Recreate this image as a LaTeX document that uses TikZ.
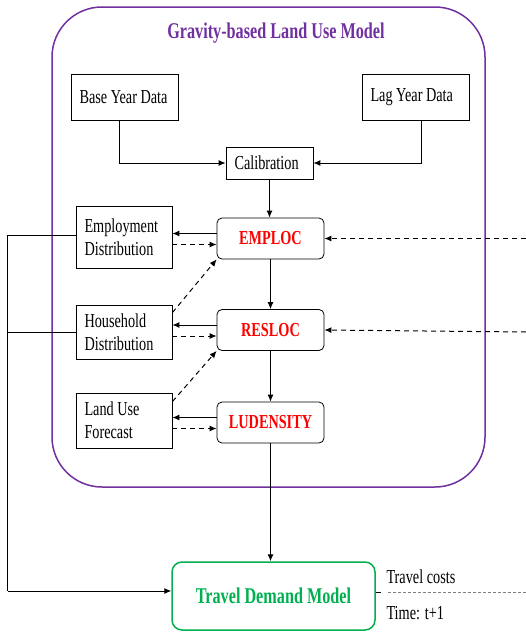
\documentclass[tikz,border=0pt]{standalone}
\usepackage{fontspec}
\setmainfont{Liberation Serif}[FakeStretch=0.72]
\usetikzlibrary{arrows.meta,positioning}
\definecolor{lumpurple}{HTML}{7030A0}
\definecolor{tdmgreen}{HTML}{00B050}

\begin{document}
\begin{tikzpicture}[x=1pt, y=-1pt, lab/.style={font=\fontsize{19.8}{22.7}\selectfont}, blab/.style={font=\bfseries\fontsize{19.8}{22.7}\selectfont}, ttl/.style={font=\bfseries\fontsize{22.5}{26}\selectfont}, dat/.style={draw, line width=0.8pt, inner xsep=8.5pt, align=flush left, lab}, sub/.style={draw, rounded corners=5pt, line width=0.8pt, minimum width=107pt, minimum height=41pt, text=red, blab}, outb/.style={draw=lumpurple, line width=1.5pt, rounded corners=50pt, minimum width=433pt, minimum height=480pt}, tdmb/.style={draw=tdmgreen, line width=1.5pt, rounded corners=10pt, minimum width=203pt, minimum height=68pt, text=tdmgreen, ttl}, arr/.style={-{Latex[length=7pt,width=6pt]}, line width=1pt}, das/.style={arr, dash pattern=on 5pt off 4pt}, fb/.style={line width=0.8pt}]

\useasboundingbox (0,0) rectangle (526,632);
\node[outb] (lum) at (268.5,247) {};
\node[ttl, text=lumpurple] (title) at (276,33) {Gravity-based Land Use Model};
\node[dat, text width=90pt, minimum height=46pt] (base) at (124.5,97) {Base Year Data};
\node[dat, text width=90pt, minimum height=46pt] (lag) at (415.5,97) {Lag Year Data};
\node[dat, text width=70pt, minimum height=32pt] (calib) at (269.5,163) {Calibration};
\node[sub] (emploc) at (270.5,238.5) {EMPLOC};
\node[sub] (resloc) at (270.5,330) {RESLOC};
\node[sub] (luden) at (270.5,422.5) {LUDENSITY};
\node[dat, text width=79pt, minimum height=62pt] (emp) at (124,237) {Employment\\Distribution};
\node[dat, text width=79pt, minimum height=54pt] (hh) at (124,332) {Household\\Distribution};
\node[dat, text width=79pt, minimum height=55pt] (luf) at (124,420.5) {Land Use\\Forecast};
\node[tdmb] (tdm) at (273.5,596) {Travel Demand Model};
\node[lab, anchor=west] (tcost) at (383,577) {Travel costs};
\node[lab, anchor=west] (ttime) at (383,613) {Time: t+1};
\coordinate (rin1) at (526,238.5);
\coordinate (rin2) at (526,332);
\coordinate (tout) at (526,592);

% calibration chain
\draw[arr] ([xshift=-5.5pt]base.south) |- (calib.west);
\draw[arr] ([xshift=5.5pt]lag.south) |- (calib.east);
\draw[arr] (calib.south) -- (calib.south |- emploc.north);
\draw[arr] (emploc.south) -- (resloc.north);
\draw[arr] (resloc.south) -- (luden.north);
\draw[arr] (luden.south) -- (luden.south |- tdm.north);

% outputs and inputs of the submodels
\draw[arr] ([yshift=5pt]emploc.west) -- ([yshift=5pt]emploc.west -| emp.east);
\draw[das] ([yshift=-6pt]emploc.west -| emp.east) -- ([yshift=-6pt]emploc.west);
\draw[arr] ([yshift=5pt]resloc.west) -- ([yshift=5pt]resloc.west -| hh.east);
\draw[das] ([yshift=-6pt]resloc.west -| hh.east) -- ([yshift=-6pt]resloc.west);
\draw[arr] ([yshift=5pt]luden.west) -- ([yshift=5pt]luden.west -| luf.east);
\draw[das] ([yshift=-6pt]luden.west -| luf.east) -- ([yshift=-6pt]luden.west);
\draw[das] ([yshift=-8pt]hh.north east) -- (emploc.south west);
\draw[das] ([yshift=-9pt]luf.north east) -- (resloc.south west);
\draw[das] (rin1) -- (emploc.east);
\draw[das] (rin2) -- (resloc.east);

% feedback to travel demand
\draw[fb] ([yshift=2pt]emp.west) -- ++(-68,0) -- ++(0,356);
\draw[fb] (hh.west) -- ++(-68,0);
\draw[arr] ([yshift=5pt]tdm.west -| 8,0) -- ([yshift=5pt]tdm.west);
\draw[fb] ([yshift=4pt]tdm.east) -- ++(5,0);
\draw[gray, line width=0.6pt, dash pattern=on 3pt off 2pt] ([yshift=4pt, xshift=12pt]tdm.east) -- (tout);
\end{tikzpicture}
\end{document}
